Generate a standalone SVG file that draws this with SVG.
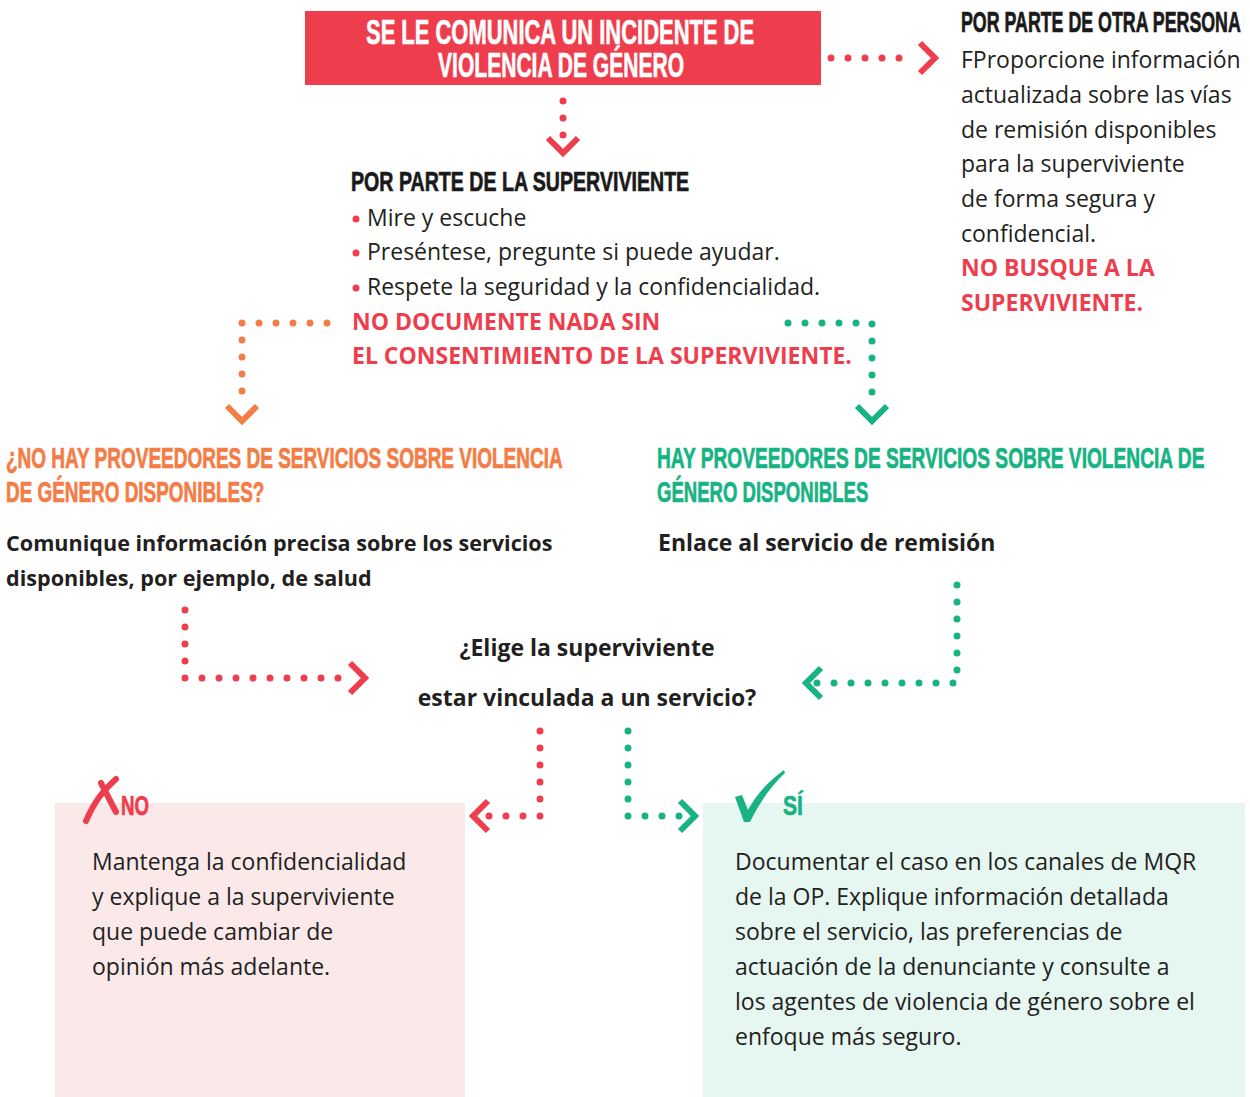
<svg xmlns="http://www.w3.org/2000/svg" width="1250" height="1097" viewBox="0 0 1250 1097">
<style>
.cond{font-family:"Liberation Sans","DejaVu Sans",sans-serif;font-weight:bold;stroke-width:0.7}
.body{font-family:"Open Sans","Noto Sans",sans-serif;font-size:23px;fill:#231f20}
.bold{font-family:"Open Sans","Noto Sans",sans-serif;font-size:23px;font-weight:bold;fill:#231f20}
.bolds{font-family:"Open Sans","Noto Sans",sans-serif;font-size:21.6px;font-weight:bold;fill:#231f20}
.warn{font-family:"Open Sans","Noto Sans",sans-serif;font-size:23px;font-weight:bold;fill:#ee3e4d}
.dr{fill:none;stroke:#ee3e4d;stroke-width:7;stroke-linecap:round;stroke-dasharray:0 17}
.dg{fill:none;stroke:#17b384;stroke-width:7;stroke-linecap:round;stroke-dasharray:0 17}
.do{fill:none;stroke:#f47c45;stroke-width:7;stroke-linecap:round;stroke-dasharray:0 17}
.cr{fill:none;stroke:#ee3e4d;stroke-width:6}
.cg{fill:none;stroke:#17b384;stroke-width:6}
.co{fill:none;stroke:#f47c45;stroke-width:6}
</style>
<rect width="1250" height="1097" fill="#ffffff"/>

<g id="node-incident">
<rect x="305" y="11" width="516" height="74" fill="#ee3e4d"/>
<text class="cond" transform="translate(366,44) scale(0.61,1)" font-size="36" fill="#ffffff" stroke="#ffffff">SE LE COMUNICA UN INCIDENTE DE</text>
<text class="cond" transform="translate(438,77) scale(0.585,1)" font-size="36" fill="#ffffff" stroke="#ffffff">VIOLENCIA DE GÉNERO</text>
</g>

<g id="node-otra-persona">
<text class="cond" transform="translate(961,32) scale(0.614,1)" font-size="29" fill="#1a1a1a" stroke="#1a1a1a">POR PARTE DE OTRA PERSONA</text>
<text class="body" x="961" y="68">FProporcione información</text>
<text class="body" x="961" y="103">actualizada sobre las vías</text>
<text class="body" x="961" y="138">de remisión disponibles</text>
<text class="body" x="961" y="172">para la superviviente</text>
<text class="body" x="961" y="207">de forma segura y</text>
<text class="body" x="961" y="242">confidencial.</text>
<text class="warn" x="961" y="276">NO BUSQUE A LA</text>
<text class="warn" x="961" y="311">SUPERVIVIENTE.</text>
</g>

<g id="node-superviviente">
<text class="cond" transform="translate(351,191) scale(0.70,1)" font-size="28" fill="#1a1a1a" stroke="#1a1a1a">POR PARTE DE LA SUPERVIVIENTE</text>
<circle cx="356" cy="219" r="3.5" fill="#ee3e4d"/>
<text class="body" x="367" y="226">Mire y escuche</text>
<circle cx="356" cy="253" r="3.5" fill="#ee3e4d"/>
<text class="body" x="367" y="260">Preséntese, pregunte si puede ayudar.</text>
<circle cx="356" cy="288" r="3.5" fill="#ee3e4d"/>
<text class="body" x="367" y="295">Respete la seguridad y la confidencialidad.</text>
<text class="warn" x="352" y="330">NO DOCUMENTE NADA SIN</text>
<text class="warn" x="352" y="364">EL CONSENTIMIENTO DE LA SUPERVIVIENTE.</text>
</g>

<g id="node-no-hay">
<text class="cond" transform="translate(6,468) scale(0.655,1)" font-size="29" fill="#f47c45" stroke="#f47c45">¿NO HAY PROVEEDORES DE SERVICIOS SOBRE VIOLENCIA</text>
<text class="cond" transform="translate(6,502) scale(0.652,1)" font-size="29" fill="#f47c45" stroke="#f47c45">DE GÉNERO DISPONIBLES?</text>
<text class="bolds" x="6" y="551">Comunique información precisa sobre los servicios</text>
<text class="bolds" x="6" y="586">disponibles, por ejemplo, de salud</text>
</g>

<g id="node-hay">
<text class="cond" transform="translate(657,468) scale(0.661,1)" font-size="29" fill="#17b384" stroke="#17b384">HAY PROVEEDORES DE SERVICIOS SOBRE VIOLENCIA DE</text>
<text class="cond" transform="translate(657,502) scale(0.64,1)" font-size="29" fill="#17b384" stroke="#17b384">GÉNERO DISPONIBLES</text>
<text class="bold" x="658" y="551">Enlace al servicio de remisión</text>
</g>

<g id="node-elige">
<text class="bold" x="587" y="656" text-anchor="middle">¿Elige la superviviente</text>
<text class="bold" x="587" y="706" text-anchor="middle">estar vinculada a un servicio?</text>
</g>

<g id="node-no">
<rect x="55" y="803" width="410" height="294" fill="#fbe9ea"/>
<path d="M86,821 C95,800 104,790 116,779" fill="none" stroke="#ee3e4d" stroke-width="6" stroke-linecap="round"/>
<path d="M101,783 L116,812" fill="none" stroke="#ee3e4d" stroke-width="6" stroke-linecap="round"/>
<text class="cond" transform="translate(121,815) scale(0.667,1)" font-size="28" fill="#ee3e4d" stroke="#ee3e4d">NO</text>
<text class="body" x="92" y="870">Mantenga la confidencialidad</text>
<text class="body" x="92" y="905">y explique a la superviviente</text>
<text class="body" x="92" y="940">que puede cambiar de</text>
<text class="body" x="92" y="975">opinión más adelante.</text>
</g>

<g id="node-si">
<rect x="703" y="803" width="542" height="294" fill="#e6f6f0"/>
<path d="M735,797 L742,795 L748,810 C758,792 770,780 784,770 L785,773 C771,786 760,802 750,822 L744,822 Z" fill="#17b384"/>
<text class="cond" transform="translate(783,815) scale(0.755,1)" font-size="28" fill="#17b384" stroke="#17b384">SÍ</text>
<text class="body" x="735" y="870">Documentar el caso en los canales de MQR</text>
<text class="body" x="735" y="905">de la OP. Explique información detallada</text>
<text class="body" x="735" y="940">sobre el servicio, las preferencias de</text>
<text class="body" x="735" y="975">actuación de la denunciante y consulte a</text>
<text class="body" x="735" y="1010">los agentes de violencia de género sobre el</text>
<text class="body" x="735" y="1045">enfoque más seguro.</text>
</g>

<g id="connectors">
<path class="dr" d="M831,58 H916"/>
<polyline class="cr" points="920,43 935,58 920,73"/>
<path class="dr" d="M563,101 V136"/>
<polyline class="cr" points="548,138 563,153 578,138"/>
<path class="do" d="M327,323 H242 V408"/>
<polyline class="co" points="227,406 242,421 257,406"/>
<path class="dg" d="M788,323 H872 V408"/>
<polyline class="cg" points="857,406 872,421 887,406"/>
<path class="dr" d="M185,610 V678 H355"/>
<polyline class="cr" points="350,663 365,678 350,693"/>
<path class="dg" d="M957,585 V683 H815"/>
<polyline class="cg" points="821,668 806,683 821,698"/>
<path class="dr" d="M540,731 V816 H480"/>
<polyline class="cr" points="488,801 473,816 488,831"/>
<path class="dg" d="M628,731 V816 H690"/>
<polyline class="cg" points="680,801 695,816 680,831"/>
</g>
</svg>
